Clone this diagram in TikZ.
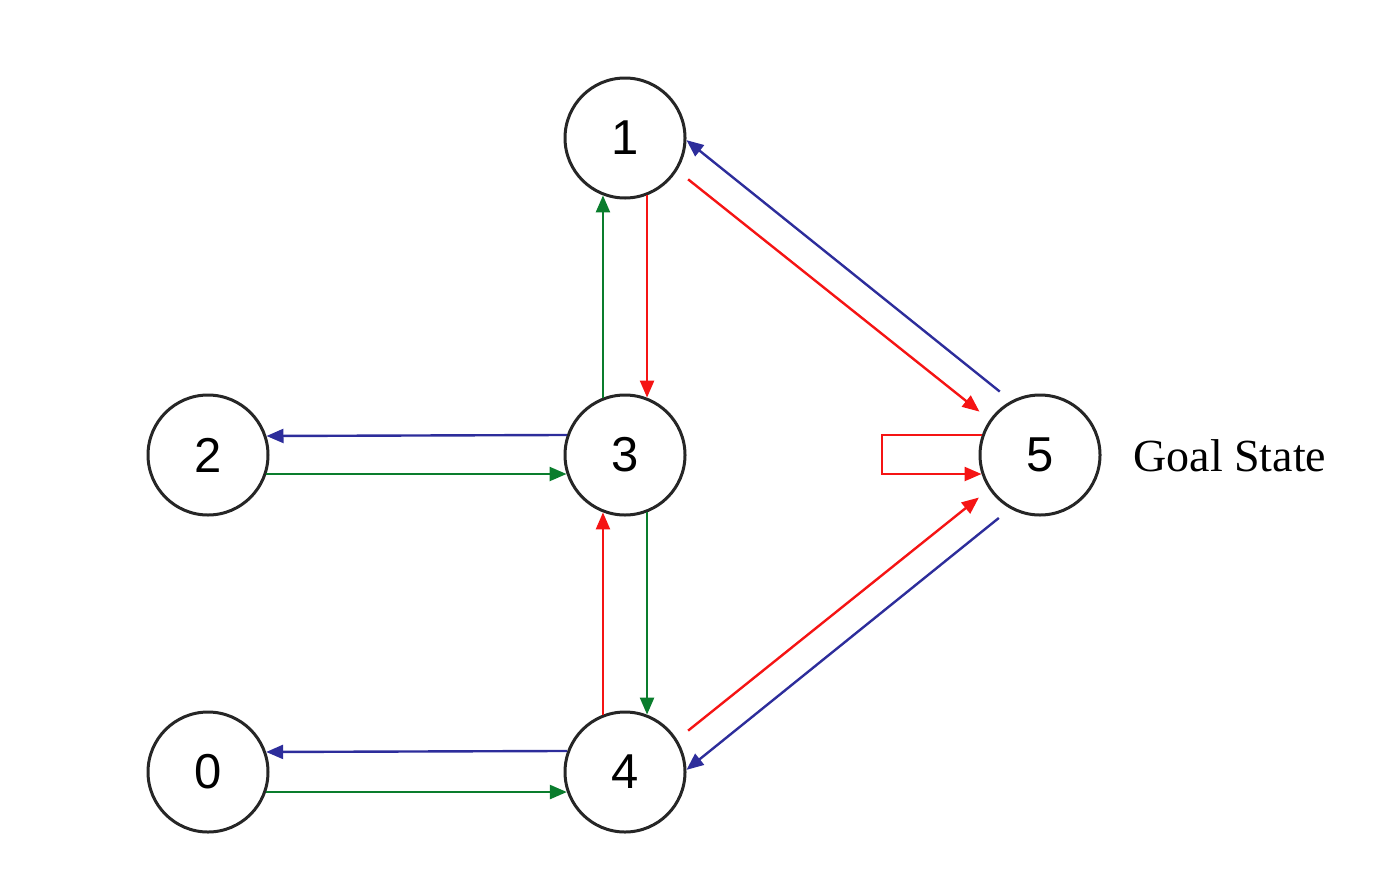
\documentclass[tikz,border=0pt]{standalone}
\usepackage{fontspec}
\setmainfont{Liberation Sans}
\newfontfamily\serifgoal{Liberation Serif}
\usetikzlibrary{arrows.meta}
\definecolor{eblue}{RGB}{45,45,155}
\definecolor{egreen}{RGB}{10,125,45}
\definecolor{ered}{RGB}{245,20,20}
\tikzset{
  state/.style={circle,draw=black!85,line width=1.5pt,minimum size=60pt,inner sep=0pt,font=\fontsize{24.5}{24.5}\selectfont},
  edge/.style={line width=1.2pt,-{Triangle[length=8.5pt,width=7pt]}},
  bl/.style={edge,draw=eblue},
  gr/.style={edge,draw=egreen},
  rd/.style={edge,draw=ered},
}
\begin{document}
\begin{tikzpicture}[x=0.5pt,y=-0.5pt]
\useasboundingbox (0,0) rectangle (1390,884);
\node[state] (n1) at (625,138) {1};
\node[state] (n3) at (625,455) {3};
\node[state] (n2) at (208,455) {2};
\node[state] (n5) at (1040,455) {5};
\node[state] (n0) at (208,772) {0};
\node[state] (n4) at (625,772) {4};
\node[anchor=base west,inner sep=0pt,font=\serifgoal\fontsize{23}{23}\selectfont] (goal) at (1133,471) {Goal State};
% vertical between 1 and 3
\draw[gr] (n3.111) -- (n1.249);
\draw[rd] (n1.291) -- (n3.69);
% vertical between 3 and 4
\draw[gr] (n3.291) -- (n4.69);
\draw[rd] (n4.111) -- (n3.249);
% horizontal 2-3
\draw[bl] (n3.161.5) -- (n2.18.5);
\draw[gr] (n2.-18.5) -- (n3.198.5);
% horizontal 0-4
\draw[bl] (n4.160.5) -- (n0.19.5);
\draw[gr] (n0.-19.5) -- (n4.199.5);
% diagonals
\draw[bl,shorten <=7.3pt] (n5.118.4) -- (n1.-2);
\draw[rd,shorten <=7pt,shorten >=6.5pt] (n1.-32.6) -- (n5.145.8);
\draw[rd,shorten <=7pt,shorten >=6.5pt] (n4.32.6) -- (n5.214.2);
\draw[bl,shorten <=7.3pt] (n5.241.6) -- (n4.2);
% self loop
\draw[rd] (n5.161.5) -- ++(-100,0) |- (n5.198.5);
\end{tikzpicture}
\end{document}
